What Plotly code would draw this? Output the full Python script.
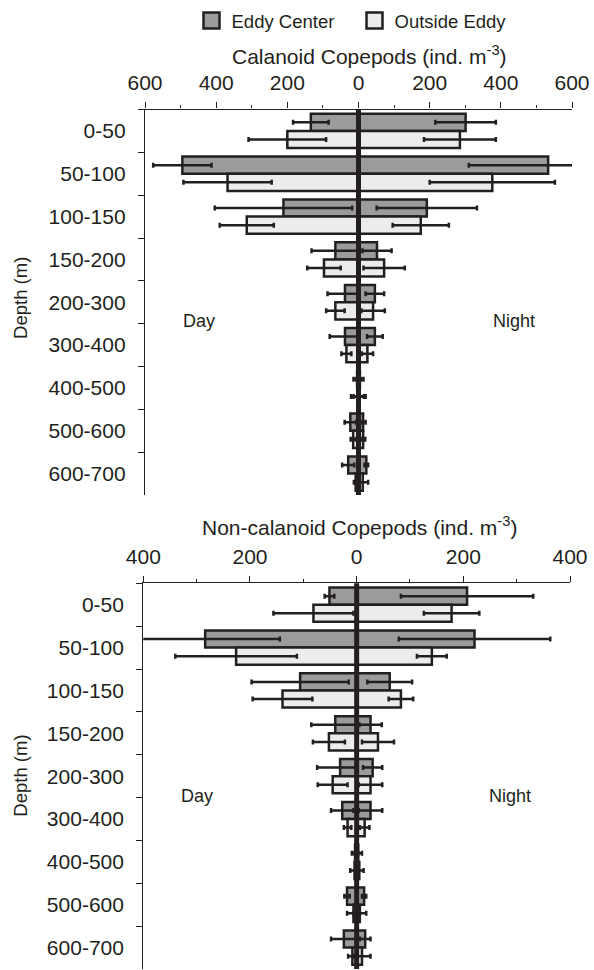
import plotly.graph_objects as go

# Depth strata (m)
depths = ["0-50", "50-100", "100-150", "150-200", "200-300",
          "300-400", "400-500", "500-600", "600-700"]

# Calanoid copepods (ind. m^-3): means and error magnitudes
cal_ec_day = [134, 495, 211, 65, 38, 38, 4, 23, 29]
cal_ec_day_err = [50, 82, 193, 67, 49, 43, 10, 16, 17]
cal_ec_night = [301, 533, 192, 52, 46, 46, 4, 13, 22]
cal_ec_night_err = [85, 223, 141, 41, 26, 22, 10, 7, 5]
cal_oe_day = [200, 368, 314, 97, 65, 34, 3, 15, 8]
cal_oe_day_err = [109, 124, 76, 47, 26, 14, 18, 7, 5]
cal_oe_night = [285, 376, 175, 72, 41, 25, 3, 13, 12]
cal_oe_night_err = [101, 176, 79, 58, 33, 16, 17, 6, 15]

# Non-calanoid copepods (ind. m^-3)
non_ec_day = [51, 284, 106, 40, 31, 27, 3, 18, 24]
non_ec_day_err = [9, 140, 91, 45, 43, 21, 6, 5, 24]
non_ec_night = [207, 221, 62, 26, 30, 26, 3, 14, 16]
non_ec_night_err = [124, 142, 42, 21, 18, 22, 7, 4, 10]
non_oe_day = [81, 226, 139, 52, 45, 17, 4, 6, 8]
non_oe_day_err = [75, 114, 56, 30, 28, 7, 8, 12, 8]
non_oe_night = [178, 141, 83, 40, 26, 15, 5, 6, 10]
non_oe_night_err = [52, 28, 23, 30, 22, 9, 8, 12, 16]

# Axis ticks (day plotted to the left, night to the right)
cal_tickvals = [-600, -400, -200, 0, 200, 400, 600]
cal_ticktext = ["600", "400", "200", "0", "200", "400", "600"]
non_tickvals = [-400, -200, 0, 200, 400]
non_ticktext = ["400", "200", "0", "200", "400"]

series_names = ["Eddy Center", "Outside Eddy"]

INK = "#231f20"
EC_FILL = "#9b9b9b"
OE_FILL = "#ececec"
FONT = "Liberation Sans, Arial, sans-serif"
FS = 21
W, H = 594, 970

fig = go.Figure()


def add_panel(xa, ya, ec_day, ec_day_err, ec_night, ec_night_err,
              oe_day, oe_day_err, oe_night, oe_night_err):
    specs = [
        ("ec", EC_FILL, ec_day, ec_day_err, -1),
        ("ec", EC_FILL, ec_night, ec_night_err, 1),
        ("oe", OE_FILL, oe_day, oe_day_err, -1),
        ("oe", OE_FILL, oe_night, oe_night_err, 1),
    ]
    for group, fill, vals, errs, sign in specs:
        fig.add_trace(go.Bar(
            y=depths, x=[sign * v for v in vals], orientation="h",
            offsetgroup=group,
            marker=dict(color=fill, line=dict(color=INK, width=2.5)),
            error_x=dict(type="data", array=errs, color=INK,
                         thickness=2.5, width=2.5),
            xaxis=xa, yaxis=ya, showlegend=False, hoverinfo="skip",
        ))


add_panel("x", "y", cal_ec_day, cal_ec_day_err, cal_ec_night, cal_ec_night_err,
          cal_oe_day, cal_oe_day_err, cal_oe_night, cal_oe_night_err)
add_panel("x2", "y2", non_ec_day, non_ec_day_err, non_ec_night, non_ec_night_err,
          non_oe_day, non_oe_day_err, non_oe_night, non_oe_night_err)

# Legend entries
for name, fill in zip(series_names, [EC_FILL, OE_FILL]):
    fig.add_trace(go.Scatter(
        x=[None], y=[None], mode="markers", name=name,
        marker=dict(symbol="square", size=17, color=fill,
                    line=dict(color=INK, width=2.5)),
        xaxis="x", yaxis="y", showlegend=True,
    ))


def x_axis(domain, anchor, rng, tickvals, ticktext):
    return dict(
        domain=domain, anchor=anchor, side="top", range=rng,
        tickmode="array", tickvals=tickvals, ticktext=ticktext,
        ticks="outside", ticklen=6, tickwidth=1.3, tickcolor=INK,
        showline=True, linecolor=INK, linewidth=1.3,
        showgrid=False, zeroline=False, automargin=False,
        minor=dict(dtick=100, tick0=0, ticks="outside", ticklen=3.5,
                   tickwidth=1.3, tickcolor=INK, showgrid=False),
        tickfont=dict(size=FS, color=INK, family=FONT),
        ticklabelstandoff=4,
        fixedrange=True,
    )


def y_axis(domain, anchor):
    return dict(
        domain=domain, anchor=anchor, type="category",
        categoryorder="array", categoryarray=depths,
        range=[8.5, -0.5], tickson="boundaries",
        ticks="outside", ticklen=6, tickwidth=1.3, tickcolor=INK,
        showline=True, linecolor=INK, linewidth=1.3,
        showgrid=False, zeroline=False, automargin=False,
        ticklabelstandoff=14,
        tickfont=dict(size=FS, color=INK, family=FONT),
        fixedrange=True,
    )


fig.update_layout(
    width=W, height=H,
    margin=dict(l=0, r=0, t=0, b=0, autoexpand=False),
    paper_bgcolor="white", plot_bgcolor="white",
    font=dict(family=FONT, color=INK, size=FS),
    barmode="group", bargap=0.2, bargroupgap=0,
    xaxis=x_axis([145 / W, 572 / W], "y", [-600, 600], cal_tickvals, cal_ticktext),
    yaxis=y_axis([1 - 495 / H, 1 - 109.5 / H], "x"),
    xaxis2=x_axis([143.3 / W, 570 / W], "y2", [-400, 400], non_tickvals, non_ticktext),
    yaxis2=y_axis([0.001, 1 - 583.3 / H], "x2"),
    showlegend=True,
    legend=dict(orientation="h", x=(218.5 - 27) / W, xanchor="left", y=0.998,
                yanchor="top", entrywidth=118,
                font=dict(size=18.5, color=INK, family=FONT),
                bgcolor="rgba(0,0,0,0)", itemclick=False, itemdoubleclick=False),
)

# Thick zero line separating day (left) and night (right)
for xr, yr in [("x", "y domain"), ("x2", "y2 domain")]:
    fig.add_shape(type="line", xref=xr, yref=yr, x0=0, x1=0, y0=0, y1=1,
                  line=dict(color=INK, width=5), layer="above")

annotations = [
    dict(text="Calanoid Copepods (ind. m<sup>-3</sup>)", xref="paper", yref="paper",
         x=369 / W, y=1 - 55 / H, font=dict(size=21)),
    dict(text="Non-calanoid Copepods (ind. m<sup>-3</sup>)", xref="paper", yref="paper",
         x=359 / W, y=1 - 526 / H, font=dict(size=21)),
    dict(text="Day", xref="x", yref="y", x=-447, y=4.44),
    dict(text="Night", xref="x", yref="y", x=436, y=4.44),
    dict(text="Day", xref="x2", yref="y2", x=-299, y=4.46),
    dict(text="Night", xref="x2", yref="y2", x=288, y=4.46),
    dict(text="Depth (m)", xref="paper", yref="y domain", x=20.5 / W,
         y=0.51, textangle=-90, font=dict(size=18.5)),
    dict(text="Depth (m)", xref="paper", yref="y2 domain", x=20.5 / W,
         y=0.5, textangle=-90, font=dict(size=18.5)),
]
for a in annotations:
    a.setdefault("font", {})
    a["font"].setdefault("size", 18)
    a["font"].update(color=INK, family=FONT)
    fig.add_annotation(showarrow=False, xanchor="center", yanchor="middle", **a)

fig.write_html("out.html")
